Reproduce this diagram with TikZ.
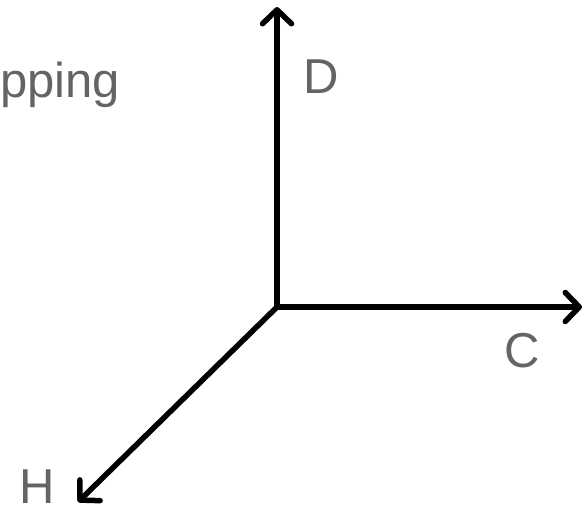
\documentclass[tikz,border=0pt]{standalone}
\usepackage{fontspec}
\setmainfont{Liberation Sans}
\usetikzlibrary{arrows.meta}
\definecolor{labelgray}{RGB}{100,100,100}
\tikzset{
  axis/.style={line width=5.5pt, -{Straight Barb[length=14pt,width=29pt,round]}},
  lbl/.style={anchor=base west, inner sep=0pt, text=labelgray, font=\fontsize{49}{54}\selectfont}
}
\begin{document}
\begin{tikzpicture}[x=1pt,y=-1pt]
\useasboundingbox (0,0) rectangle (588,512);
\coordinate (O) at (277,307);
\coordinate (D) at (277,7);
\coordinate (C) at (582,307);
\coordinate (H) at (78,502);
\draw[axis] (O) -- (D);
\draw[axis] (O) -- (C);
\draw[axis] (O) -- (H);
\node[lbl] (t) at (0,97) {pping};
\node[lbl] (dl) at (303,93) {D};
\node[lbl] (cl) at (504,367) {C};
\node[lbl] (hl) at (19,503) {H};
\end{tikzpicture}
\end{document}
